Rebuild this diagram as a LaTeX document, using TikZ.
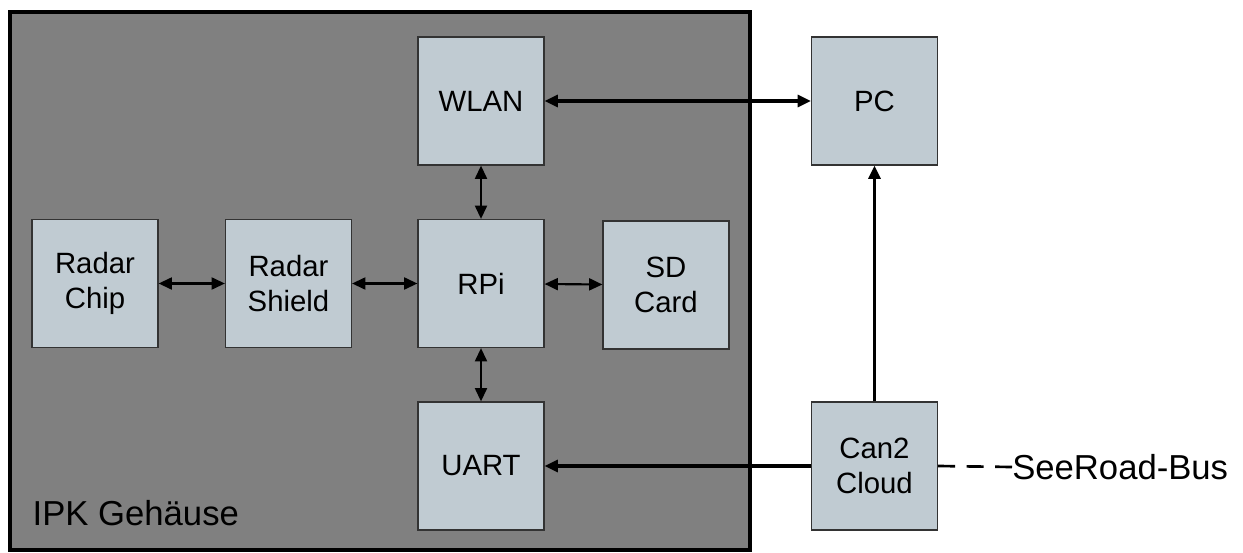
\documentclass[tikz,border=0pt]{standalone}
\usepackage{fontspec}
\setmainfont{Liberation Sans}
\usepackage{tikz}
\usetikzlibrary{arrows.meta}

\definecolor{housing}{HTML}{808080}
\definecolor{blockfill}{HTML}{C0CBD2}
\definecolor{blockline}{HTML}{333333}

\tikzset{
    block/.style={draw=blockline, line width=0.9pt, fill=blockfill, align=center,
        minimum width=94.5pt, minimum height=96pt, inner sep=0pt,
        font=\fontsize{22}{26}\selectfont},
    link/.style={line width=1.6pt, {Triangle[length=10pt,width=9pt]}-{Triangle[length=10pt,width=9pt]}},
    biglink/.style={line width=2.3pt},
    tip/.style={-{Triangle[length=10pt,width=9pt]}}
}

\begin{document}
\begin{tikzpicture}[x=0.75pt, y=-0.75pt]

\useasboundingbox (0,0) rectangle (1243,553);

% --- HOUSING ---
\draw[line width=3pt, fill=housing] (10,12) rectangle (750,550);
\node[anchor=west, font=\fontsize{26}{30}\selectfont] (ipk) at (28,513) {IPK Gehäuse};

% --- BLOCKS INSIDE THE HOUSING ---
\node[block] (wlan)   at (481,101)   {WLAN};
\node[block] (chip)   at (95,283.5)  {Radar\\Chip};
\node[block] (shield) at (288.5,283.5) {Radar\\Shield};
\node[block] (rpi)    at (481,283.5) {RPi};
\node[block] (sd)     at (666,285)   {SD\\Card};
\node[block] (uart)   at (481,466)   {UART};

% --- OUTSIDE ---
\node[block] (pc)     at (874.5,101) {PC};
\node[block] (can)    at (874.5,466) {Can2\\Cloud};
\node[anchor=west, inner sep=0pt, font=\fontsize{26}{30}\selectfont] (bus) at (1012,467) {SeeRoad-Bus};

% --- INTERNAL CONNECTIONS ---
\draw[link] (chip) -- (shield);
\draw[link] (shield) -- (rpi);
\draw[link] (rpi) -- (sd);
\draw[link] (rpi) -- (wlan);
\draw[link] (rpi) -- (uart);

% --- EXTERNAL CONNECTIONS ---
\draw[link, biglink] (wlan) -- (pc);
\draw[biglink, tip] (can) -- (pc);
\draw[biglink, tip] (can) -- (uart);
\draw[line width=2pt, dash pattern=on 12.75pt off 8.6pt] (can.east) -- (bus.west);

\end{tikzpicture}
\end{document}
